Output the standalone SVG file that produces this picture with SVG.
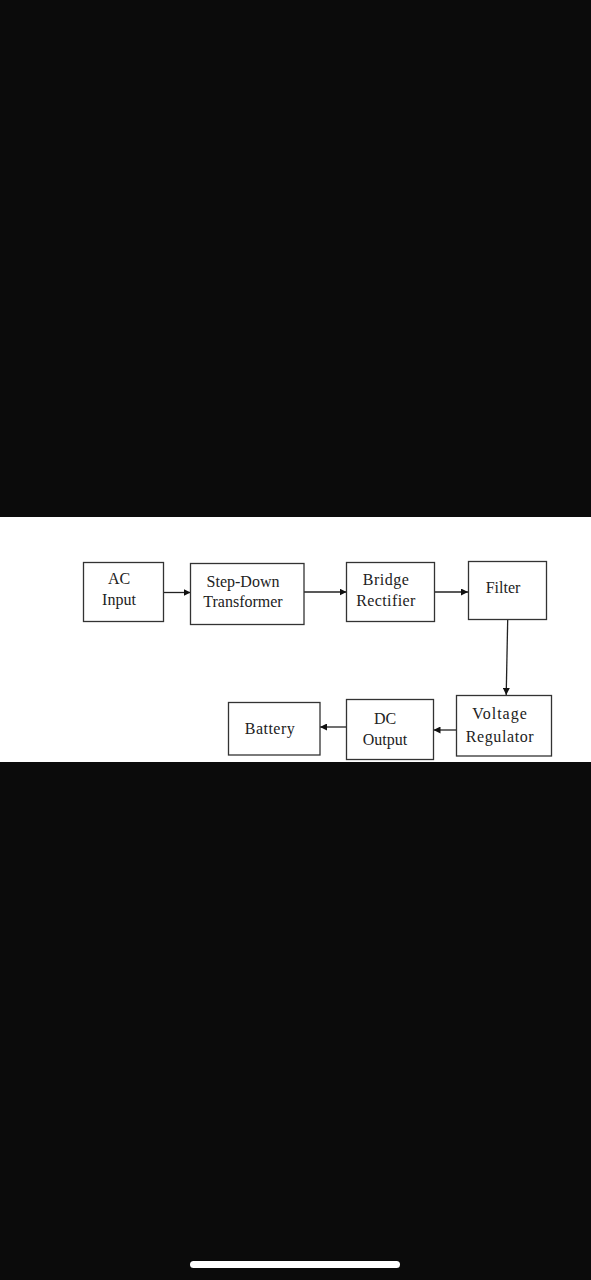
<svg xmlns="http://www.w3.org/2000/svg" width="591" height="1280" viewBox="0 0 591 1280">
<style>
.box{fill:#fff;stroke:#333;stroke-width:1.3}
.t{font-family:"Liberation Serif","Times New Roman",serif;font-size:16px;fill:#222;text-anchor:middle}
.c{stroke:#222;stroke-width:1.3;fill:none}
</style>
<defs>
<marker id="ah" viewBox="0 0 10 10" refX="10" refY="5" markerWidth="7" markerHeight="7" markerUnits="userSpaceOnUse" orient="auto">
<path d="M0,0 L10,5 L0,10 z" fill="#111"/>
</marker>
</defs>
<rect x="0" y="0" width="591" height="1280" fill="#0b0b0b"/>
<rect x="0" y="517" width="591" height="245" fill="#fff"/>
<rect x="190" y="1261" width="210" height="7" rx="3.5" fill="#fff"/>
<g id="connectors">
<line class="c" x1="163.5" y1="592.5" x2="190.5" y2="592.5" marker-end="url(#ah)"/>
<line class="c" x1="304" y1="592" x2="346.5" y2="592" marker-end="url(#ah)"/>
<line class="c" x1="434.5" y1="592" x2="468" y2="592" marker-end="url(#ah)"/>
<line class="c" x1="507.7" y1="619.5" x2="506.2" y2="695" marker-end="url(#ah)"/>
<line class="c" x1="456.5" y1="730" x2="433.5" y2="730" marker-end="url(#ah)"/>
<line class="c" x1="346.5" y1="727" x2="320" y2="727" marker-end="url(#ah)"/>
</g>
<g id="ac-input">
<rect class="box" x="83.5" y="562.5" width="80" height="59"/>
<text class="t" x="119" y="584">AC</text>
<text class="t" x="119" y="605">Input</text>
</g>
<g id="step-down">
<rect class="box" x="190.5" y="563.5" width="113.5" height="61"/>
<text class="t" x="243" y="586.5">Step-Down</text>
<text class="t" x="243" y="607">Transformer</text>
</g>
<g id="bridge">
<rect class="box" x="346.5" y="562.5" width="88" height="59"/>
<text class="t" x="386" y="585" letter-spacing="0.5">Bridge</text>
<text class="t" x="386" y="606" letter-spacing="0.4">Rectifier</text>
</g>
<g id="filter">
<rect class="box" x="468.5" y="561.5" width="78" height="58"/>
<text class="t" x="503" y="592.5">Filter</text>
</g>
<g id="regulator">
<rect class="box" x="456.5" y="695.5" width="95" height="60.5"/>
<text class="t" x="500" y="719" letter-spacing="1">Voltage</text>
<text class="t" x="500" y="741.5" letter-spacing="0.6">Regulator</text>
</g>
<g id="dc-output">
<rect class="box" x="346.5" y="699.5" width="87" height="60"/>
<text class="t" x="385" y="724">DC</text>
<text class="t" x="385" y="745">Output</text>
</g>
<g id="battery">
<rect class="box" x="228.5" y="702.5" width="91.5" height="52.5"/>
<text class="t" x="270" y="734" letter-spacing="0.5">Battery</text>
</g>
</svg>
